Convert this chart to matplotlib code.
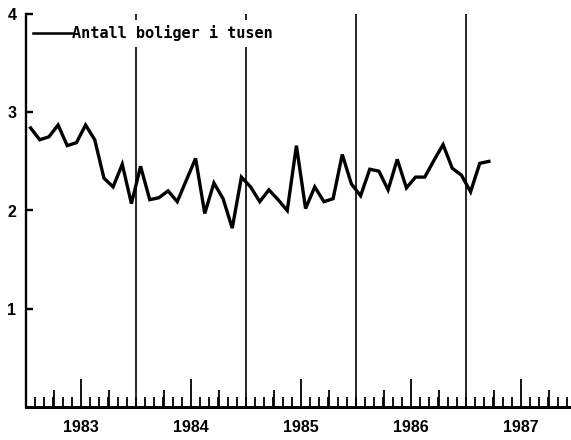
import matplotlib
matplotlib.use("Agg")
import matplotlib.pyplot as plt
import numpy as np

# monthly values, Jan 1983 - Mar 1987 (thousands of dwellings)
years = [1983, 1984, 1985, 1986, 1987]
v1983 = [2.84, 2.72, 2.75, 2.87, 2.66, 2.69, 2.87, 2.72, 2.33, 2.24, 2.47, 2.07]
v1984 = [2.45, 2.11, 2.13, 2.20, 2.09, 2.31, 2.53, 1.97, 2.28, 2.12, 1.82, 2.34]
v1985 = [2.24, 2.09, 2.21, 2.11, 2.00, 2.66, 2.02, 2.24, 2.09, 2.12, 2.57, 2.27]
v1986 = [2.15, 2.42, 2.40, 2.21, 2.52, 2.23, 2.34, 2.34, 2.51, 2.67, 2.43, 2.36]
v1987 = [2.19, 2.48, 2.50]
label = "Antall boliger i tusen"
yticks = [1, 2, 3, 4]

values = v1983 + v1984 + v1985 + v1986 + v1987
t = years[0] + (np.arange(len(values)) + 0.5) / 12

fig = plt.figure(figsize=(5.71, 4.40), dpi=100)
ax = fig.add_axes([26 / 571, 33 / 440, 545 / 571, 393 / 440])

for y in years[1:]:
    ax.axvline(y, color="black", lw=1.2, zorder=1)
ax.plot(t, values, color="black", lw=2.4, solid_joinstyle="miter", label=label, zorder=3)

ax.set_xlim(years[0], years[0] + 545 / 110)
ax.set_ylim(0, 4)
for s in ("top", "right"):
    ax.spines[s].set_visible(False)
ax.spines["left"].set_linewidth(1.7)
ax.spines["bottom"].set_linewidth(2.0)

tick_font = dict(family=["Liberation Sans Narrow", "Liberation Sans", "DejaVu Sans"],
                 weight="bold", size=11.5)
ax.set_yticks(yticks)
ax.set_yticklabels([str(v) for v in yticks], **tick_font)
ax.tick_params(axis="y", direction="in", length=5, width=1.7, pad=7)

mid = [y + 0.5 for y in years]
ax.set_xticks(mid)
ax.set_xticklabels([str(y) for y in years], **tick_font)
ax.set_xticks(np.arange(years[0], years[-1] + 1, 1 / 12), minor=True)
ax.tick_params(axis="x", which="major", direction="in", length=20, width=1.3, pad=9)
ax.tick_params(axis="x", which="minor", direction="in", length=7, width=1.3)

sec = ax.secondary_xaxis("bottom")
quarters = [y + q for y in years for q in (0.25, 0.75)]
sec.set_xticks(quarters)
sec.set_xticklabels([])
sec.tick_params(direction="in", length=12, width=1.3)
sec.spines["bottom"].set_linewidth(2.0)

leg = ax.legend(loc="upper left", bbox_to_anchor=(0.0035, 0.985), borderaxespad=0,
                frameon=True, fancybox=False, handlelength=2.55, handletextpad=0,
                borderpad=0.35, prop=dict(family="DejaVu Sans Mono", weight="bold", size=11))
leg.get_frame().set_facecolor("white")
leg.get_frame().set_edgecolor("none")
leg.get_frame().set_alpha(1)
leg.get_lines()[0].set_linewidth(1.8)

fig.savefig("out.png", dpi=100)
